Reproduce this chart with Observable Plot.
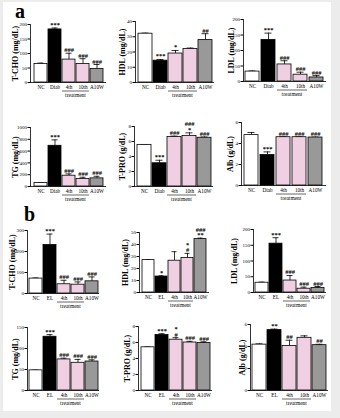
<!DOCTYPE html>
<html><head><meta charset="utf-8">
<script src="https://cdn.jsdelivr.net/npm/d3@7"></script>
<script src="https://cdn.jsdelivr.net/npm/@observablehq/plot@0.6"></script>
<style>
html,body{margin:0;padding:0;background:#ececec;}
#page{position:relative;width:340px;height:418px;overflow:hidden;background:#ececec;font-family:"Liberation Serif",serif;}
#card{position:absolute;left:3px;top:2px;width:328px;height:409px;background:#fff;}
.plab{position:absolute;font-weight:bold;font-size:20px;line-height:20px;font-family:"Liberation Serif",serif;}
svg{overflow:visible;}
</style></head>
<body><div id="page"><div id="card"></div>
<div class="plab" style="left:15px;top:1px">a</div>
<div class="plab" style="left:24px;top:204px">b</div>
</div>
<script>
// categories
const catsA = ["NC", "Diab", "4th", "10th", "A10W"];
const catsB = ["NC", "EL", "4th", "10th", "A10W"];
const groups = ["control", "disease", "treat", "treat2", "positive"];

// panel a
const aTcho = [64, 183, 79, 64, 47];
const aTchoErr = [3, 5, 22, 18, 15];
const aTchoSig = ["", "***", "###", "###", "###"];
const aHdl = [32, 14.3, 19, 22, 27.8];
const aHdlErr = [0.4, 0.8, 2, 0.6, 4.2];
const aHdlSig = ["", "***", "*", "", "##"];
const aLdl = [32, 134, 55, 22, 13];
const aLdlErr = [2, 22, 12, 8, 6];
const aLdlSig = ["", "***", "###", "###", "###"];
const aTg = [59, 690, 183, 127, 138];
const aTgErr = [5, 100, 30, 30, 35];
const aTgSig = ["", "***", "###", "###", "###"];
const aTpro = [5.55, 3.1, 6.6, 6.75, 6.5];
const aTproErr = [0.05, 0.4, 0.12, 0.4, 0.1];
const aTproSig = ["", "***", "###", "###\n*", "###"];
const aAlb = [4.8, 2.9, 4.6, 4.6, 4.57];
const aAlbErr = [0.25, 0.3, 0.04, 0.04, 0.04];
const aAlbSig = ["", "***", "###", "###", "###"];

// panel b
const bTcho = [71, 231, 44, 42, 58];
const bTchoErr = [3, 52, 19, 13, 21];
const bTchoSig = ["", "***", "###", "###", "###"];
const bHdl = [27, 13.3, 26.5, 28.7, 44.5];
const bHdlErr = [0.4, 0.6, 7.5, 3.9, 0.8];
const bHdlSig = ["", "*", "", "*\n#", "###\n**"];
const bLdl = [31, 155, 38, 12, 14];
const bLdlErr = [2, 19, 16, 5, 5];
const bLdlSig = ["", "***", "###", "###", "###"];
const bTg = [48, 128, 74, 66, 69];
const bTgErr = [0.6, 5, 3, 8, 4];
const bTgSig = ["", "***", "###", "###", "###"];
const bTpro = [5.4, 6.93, 6.35, 6.0, 5.94];
const bTproErr = [0.05, 0.17, 0.25, 0.15, 0.15];
const bTproSig = ["", "***", "*\n#", "###", "###"];
const bAlb = [4.17, 5.49, 4.05, 4.79, 4.12];
const bAlbErr = [0.07, 0.09, 0.52, 0.18, 0.08];
const bAlbSig = ["", "**", "##", "", "##"];

// tick labels
const ticks200 = [0, 50, 100, 150, 200];
const ticks40 = [0, 10, 20, 30, 40];
const ticks1000 = [0, 200, 400, 600, 800, 1000];
const ticks8 = [0, 2, 4, 6, 8];
const ticks6 = [0, 2, 4, 6];
const ticks300 = [0, 100, 200, 300];
const ticks50 = [0, 10, 20, 30, 40, 50];
const ticks150 = [0, 50, 100, 150];

const charts = [
  {cats: catsA, vals: aTcho, errs: aTchoErr, sig: aTchoSig, label: "T-CHO (mg/dL)", max: 200, ticks: ticks200},
  {cats: catsA, vals: aHdl, errs: aHdlErr, sig: aHdlSig, label: "HDL (mg/dL)", max: 40, ticks: ticks40},
  {cats: catsA, vals: aLdl, errs: aLdlErr, sig: aLdlSig, label: "LDL (mg/dL)", max: 200, ticks: ticks200},
  {cats: catsA, vals: aTg, errs: aTgErr, sig: aTgSig, label: "TG (mg/dL)", max: 1000, ticks: ticks1000},
  {cats: catsA, vals: aTpro, errs: aTproErr, sig: aTproSig, label: "T-PRO (g/dL)", max: 8, ticks: ticks8},
  {cats: catsA, vals: aAlb, errs: aAlbErr, sig: aAlbSig, label: "Alb (g/dL)", max: 6, ticks: ticks6},
  {cats: catsB, vals: bTcho, errs: bTchoErr, sig: bTchoSig, label: "T-CHO (mg/dL)", max: 300, ticks: ticks300},
  {cats: catsB, vals: bHdl, errs: bHdlErr, sig: bHdlSig, label: "HDL (mg/dL)", max: 50, ticks: ticks50},
  {cats: catsB, vals: bLdl, errs: bLdlErr, sig: bLdlSig, label: "LDL (mg/dL)", max: 200, ticks: ticks200},
  {cats: catsB, vals: bTg, errs: bTgErr, sig: bTgSig, label: "TG (mg/dL)", max: 150, ticks: ticks150},
  {cats: catsB, vals: bTpro, errs: bTproErr, sig: bTproSig, label: "T-PRO (g/dL)", max: 8, ticks: ticks8},
  {cats: catsB, vals: bAlb, errs: bAlbErr, sig: bAlbSig, label: "Alb (g/dL)", max: 6, ticks: ticks6}
];

// layout (page pixels)
const layout = [
  {axisX: 30, right: 106, yTop: 24, y0: 82, ldx: -15},
  {axisX: 135, right: 214, yTop: 21, y0: 82, ldx: -13},
  {axisX: 243, right: 326, yTop: 19, y0: 81, ldx: -12},
  {axisX: 30, right: 106, yTop: 127, y0: 186, ldx: -15},
  {axisX: 134, right: 213, yTop: 126, y0: 186, ldx: -12},
  {axisX: 241, right: 326, yTop: 122, y0: 185, ldx: -11},
  {axisX: 27, right: 99, yTop: 230, y0: 293, ldx: -15},
  {axisX: 139, right: 209, yTop: 232, y0: 292, ldx: -14},
  {axisX: 253, right: 326, yTop: 229, y0: 292, ldx: -19},
  {axisX: 27, right: 99, yTop: 327, y0: 390, ldx: -12},
  {axisX: 138, right: 212, yTop: 326, y0: 390, ldx: -11},
  {axisX: 250, right: 328, yTop: 324, y0: 390, ldx: -8}
];

const page = document.getElementById("page");
const FONT = "Liberation Serif";

charts.forEach((ch, idx) => {
  const lay = layout[idx];
  const ml = 30, mr = 2, mt = 16, mb = 22;
  const w = lay.right - lay.axisX + ml + mr;
  const h = lay.y0 - lay.yTop + mt + mb;
  const rows = ch.cats.map((c, i) => ({c, v: ch.vals[i], e: ch.errs[i], s: ch.sig[i], g: groups[i]}));
  const p = Plot.plot({
    width: w, height: h,
    marginLeft: ml, marginRight: mr, marginTop: mt, marginBottom: mb,
    style: {fontFamily: FONT, background: "transparent", overflow: "visible", color: "#000"},
    x: {domain: ch.cats, paddingInner: 0.1, paddingOuter: 0.12, label: null},
    y: {domain: [0, ch.max], label: null},
    color: {domain: groups, range: ["#ffffff", "#000000", "#f0cfe2", "#f0cfe2", "#999999"]},
    marks: [
      Plot.ruleX(rows, {x: "c", y1: "v", y2: d => d.v + d.e, stroke: "#000", strokeWidth: 0.8}),
      Plot.tickY(rows, {x: "c", y: d => d.v + d.e, stroke: "#000", strokeWidth: 0.8, insetLeft: 3.5, insetRight: 3.5}),
      Plot.barY(rows, {x: "c", y: "v", fill: "g", stroke: "#000", strokeWidth: 0.8}),
      Plot.text(rows, {x: "c", y: d => d.v + d.e, text: "s", dy: -1, lineAnchor: "bottom", fontSize: 6.5, fontWeight: "bold", lineHeight: 0.85, fill: "#000"}),
      Plot.axisY({ticks: ch.ticks, tickSize: 2.5, tickPadding: 1, fontSize: 5, label: null, tickFormat: d => String(d)}),
      Plot.axisX({tickSize: 0, tickPadding: 2.5, fontSize: 5.2, label: null}),
      Plot.frame({anchor: "left", stroke: "#000", strokeWidth: 0.8}),
      Plot.ruleY([0], {stroke: "#000", strokeWidth: 0.8}),
      Plot.text([ch.label], {frameAnchor: "left", textAnchor: "middle", lineAnchor: "middle", rotate: -90, dx: lay.ldx, fontSize: 8, fontWeight: "bold", fill: "#000"})
    ]
  });
  // treatment bracket, positioned from the x scale
  const sx = p.scale("x");
  const bw = sx.bandwidth;
  const x1 = sx.apply("4th"), x2 = sx.apply("10th") + bw;
  const yb = h - mb + 9;
  const svg = d3.select(p);
  svg.append("line").attr("x1", x1).attr("x2", x2).attr("y1", yb).attr("y2", yb)
    .attr("stroke", "#000").attr("stroke-width", 0.6);
  svg.append("text").attr("x", (x1 + x2) / 2).attr("y", yb + 6)
    .attr("text-anchor", "middle").attr("font-size", 5.5).attr("font-family", FONT).text("treatment");
  p.style.position = "absolute";
  p.style.left = (lay.axisX - ml) + "px";
  p.style.top = (lay.yTop - mt) + "px";
  page.appendChild(p);
});
</script>
</body></html>
